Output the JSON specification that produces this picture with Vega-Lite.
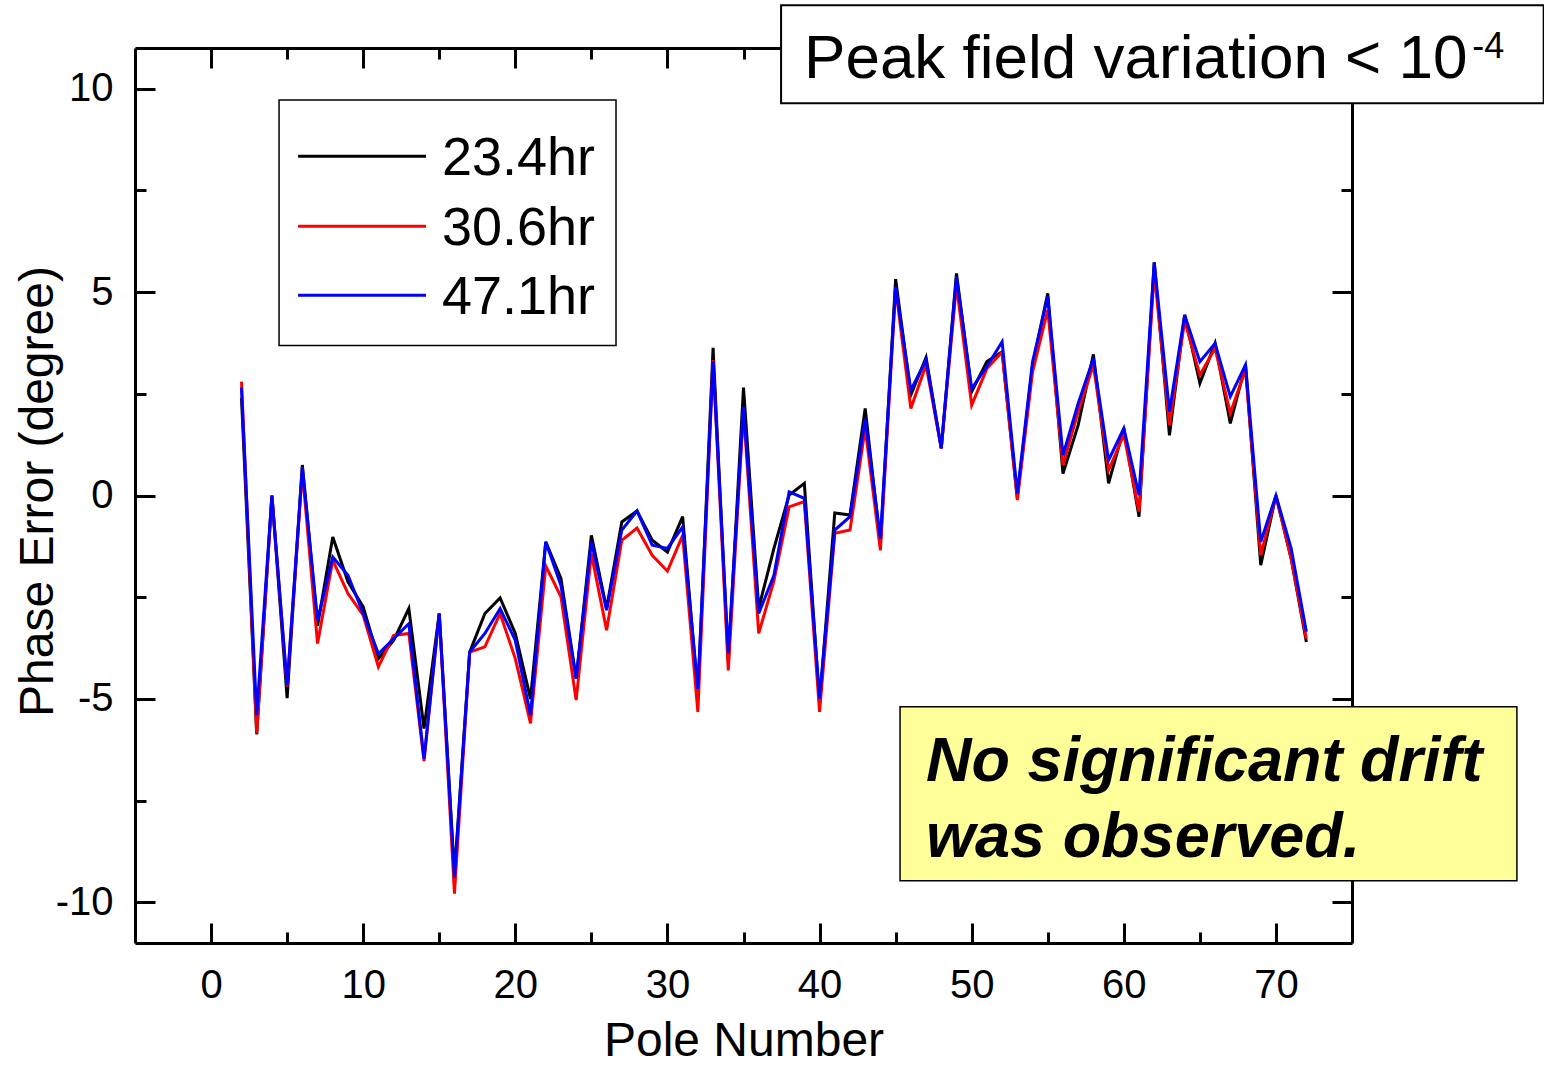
{
  "$schema": "https://vega.github.io/schema/vega-lite/v6.json",
  "width": 1217,
  "height": 895,
  "autosize": "none",
  "padding": {"left": 135, "top": 48, "right": 192, "bottom": 123},
  "background": "white",
  "config": {
    "view": {"stroke": null},
    "font": "Liberation Sans",
    "axis": {
      "domainColor": "black", "domainWidth": 3, "tickColor": "black", "tickWidth": 3,
      "grid": false, "labelFont": "Liberation Sans", "labelFontSize": 40, "labelColor": "black",
      "titleFont": "Liberation Sans", "titleFontSize": 48, "titleFontWeight": "normal", "titleColor": "black"
    }
  },
  "datasets": {
    "phase": [
      {"pole":2,"series":"23.4hr","err":2.4},{"pole":3,"series":"23.4hr","err":-5.87},{"pole":4,"series":"23.4hr","err":0.0},{"pole":5,"series":"23.4hr","err":-4.98},{"pole":6,"series":"23.4hr","err":0.75},{"pole":7,"series":"23.4hr","err":-3.2},{"pole":8,"series":"23.4hr","err":-1.02},{"pole":9,"series":"23.4hr","err":-2.12},{"pole":10,"series":"23.4hr","err":-2.74},{"pole":11,"series":"23.4hr","err":-4.01},{"pole":12,"series":"23.4hr","err":-3.56},{"pole":13,"series":"23.4hr","err":-2.78},{"pole":14,"series":"23.4hr","err":-5.73},{"pole":15,"series":"23.4hr","err":-2.9},{"pole":16,"series":"23.4hr","err":-9.3},{"pole":17,"series":"23.4hr","err":-3.85},{"pole":18,"series":"23.4hr","err":-2.9},{"pole":19,"series":"23.4hr","err":-2.52},{"pole":20,"series":"23.4hr","err":-3.39},{"pole":21,"series":"23.4hr","err":-5.0},{"pole":22,"series":"23.4hr","err":-1.14},{"pole":23,"series":"23.4hr","err":-2.04},{"pole":24,"series":"23.4hr","err":-4.5},{"pole":25,"series":"23.4hr","err":-0.98},{"pole":26,"series":"23.4hr","err":-2.78},{"pole":27,"series":"23.4hr","err":-0.65},{"pole":28,"series":"23.4hr","err":-0.38},{"pole":29,"series":"23.4hr","err":-1.1},{"pole":30,"series":"23.4hr","err":-1.39},{"pole":31,"series":"23.4hr","err":-0.52},{"pole":32,"series":"23.4hr","err":-4.9},{"pole":33,"series":"23.4hr","err":3.63},{"pole":34,"series":"23.4hr","err":-4.1},{"pole":35,"series":"23.4hr","err":2.65},{"pole":36,"series":"23.4hr","err":-2.77},{"pole":37,"series":"23.4hr","err":-1.3},{"pole":38,"series":"23.4hr","err":0.01},{"pole":39,"series":"23.4hr","err":0.3},{"pole":40,"series":"23.4hr","err":-5.1},{"pole":41,"series":"23.4hr","err":-0.43},{"pole":42,"series":"23.4hr","err":-0.48},{"pole":43,"series":"23.4hr","err":2.14},{"pole":44,"series":"23.4hr","err":-1.2},{"pole":45,"series":"23.4hr","err":5.32},{"pole":46,"series":"23.4hr","err":2.47},{"pole":47,"series":"23.4hr","err":3.39},{"pole":48,"series":"23.4hr","err":1.16},{"pole":49,"series":"23.4hr","err":5.46},{"pole":50,"series":"23.4hr","err":2.55},{"pole":51,"series":"23.4hr","err":3.29},{"pole":52,"series":"23.4hr","err":3.53},{"pole":53,"series":"23.4hr","err":-0.05},{"pole":54,"series":"23.4hr","err":3.2},{"pole":55,"series":"23.4hr","err":4.97},{"pole":56,"series":"23.4hr","err":0.54},{"pole":57,"series":"23.4hr","err":1.73},{"pole":58,"series":"23.4hr","err":3.47},{"pole":59,"series":"23.4hr","err":0.3},{"pole":60,"series":"23.4hr","err":1.65},{"pole":61,"series":"23.4hr","err":-0.52},{"pole":62,"series":"23.4hr","err":5.73},{"pole":63,"series":"23.4hr","err":1.48},{"pole":64,"series":"23.4hr","err":4.44},{"pole":65,"series":"23.4hr","err":2.76},{"pole":66,"series":"23.4hr","err":3.74},{"pole":67,"series":"23.4hr","err":1.77},{"pole":68,"series":"23.4hr","err":3.21},{"pole":69,"series":"23.4hr","err":-1.71},{"pole":70,"series":"23.4hr","err":0.0},{"pole":71,"series":"23.4hr","err":-1.55},{"pole":72,"series":"23.4hr","err":-3.6},
      {"pole":2,"series":"30.6hr","err":2.8},{"pole":3,"series":"30.6hr","err":-5.85},{"pole":4,"series":"30.6hr","err":0.0},{"pole":5,"series":"30.6hr","err":-4.7},{"pole":6,"series":"30.6hr","err":0.6},{"pole":7,"series":"30.6hr","err":-3.64},{"pole":8,"series":"30.6hr","err":-1.59},{"pole":9,"series":"30.6hr","err":-2.41},{"pole":10,"series":"30.6hr","err":-2.94},{"pole":11,"series":"30.6hr","err":-4.21},{"pole":12,"series":"30.6hr","err":-3.44},{"pole":13,"series":"30.6hr","err":-3.39},{"pole":14,"series":"30.6hr","err":-6.53},{"pole":15,"series":"30.6hr","err":-2.9},{"pole":16,"series":"30.6hr","err":-9.79},{"pole":17,"series":"30.6hr","err":-3.85},{"pole":18,"series":"30.6hr","err":-3.72},{"pole":19,"series":"30.6hr","err":-2.9},{"pole":20,"series":"30.6hr","err":-4.01},{"pole":21,"series":"30.6hr","err":-5.6},{"pole":22,"series":"30.6hr","err":-1.73},{"pole":23,"series":"30.6hr","err":-2.49},{"pole":24,"series":"30.6hr","err":-5.03},{"pole":25,"series":"30.6hr","err":-1.43},{"pole":26,"series":"30.6hr","err":-3.31},{"pole":27,"series":"30.6hr","err":-1.1},{"pole":28,"series":"30.6hr","err":-0.8},{"pole":29,"series":"30.6hr","err":-1.47},{"pole":30,"series":"30.6hr","err":-1.86},{"pole":31,"series":"30.6hr","err":-0.98},{"pole":32,"series":"30.6hr","err":-5.32},{"pole":33,"series":"30.6hr","err":3.33},{"pole":34,"series":"30.6hr","err":-4.3},{"pole":35,"series":"30.6hr","err":2.1},{"pole":36,"series":"30.6hr","err":-3.39},{"pole":37,"series":"30.6hr","err":-2.1},{"pole":38,"series":"30.6hr","err":-0.28},{"pole":39,"series":"30.6hr","err":-0.15},{"pole":40,"series":"30.6hr","err":-5.32},{"pole":41,"series":"30.6hr","err":-0.93},{"pole":42,"series":"30.6hr","err":-0.85},{"pole":43,"series":"30.6hr","err":1.65},{"pole":44,"series":"30.6hr","err":-1.35},{"pole":45,"series":"30.6hr","err":5.1},{"pole":46,"series":"30.6hr","err":2.14},{"pole":47,"series":"30.6hr","err":3.21},{"pole":48,"series":"30.6hr","err":1.16},{"pole":49,"series":"30.6hr","err":5.17},{"pole":50,"series":"30.6hr","err":2.22},{"pole":51,"series":"30.6hr","err":3.12},{"pole":52,"series":"30.6hr","err":3.53},{"pole":53,"series":"30.6hr","err":-0.11},{"pole":54,"series":"30.6hr","err":3.04},{"pole":55,"series":"30.6hr","err":4.56},{"pole":56,"series":"30.6hr","err":0.75},{"pole":57,"series":"30.6hr","err":2.06},{"pole":58,"series":"30.6hr","err":3.21},{"pole":59,"series":"30.6hr","err":0.62},{"pole":60,"series":"30.6hr","err":1.5},{"pole":61,"series":"30.6hr","err":-0.4},{"pole":62,"series":"30.6hr","err":5.5},{"pole":63,"series":"30.6hr","err":1.73},{"pole":64,"series":"30.6hr","err":4.3},{"pole":65,"series":"30.6hr","err":2.96},{"pole":66,"series":"30.6hr","err":3.62},{"pole":67,"series":"30.6hr","err":2.02},{"pole":68,"series":"30.6hr","err":3.1},{"pole":69,"series":"30.6hr","err":-1.47},{"pole":70,"series":"30.6hr","err":0.0},{"pole":71,"series":"30.6hr","err":-1.55},{"pole":72,"series":"30.6hr","err":-3.52},
      {"pole":2,"series":"47.1hr","err":2.65},{"pole":3,"series":"47.1hr","err":-5.4},{"pole":4,"series":"47.1hr","err":0.0},{"pole":5,"series":"47.1hr","err":-4.67},{"pole":6,"series":"47.1hr","err":0.7},{"pole":7,"series":"47.1hr","err":-3.07},{"pole":8,"series":"47.1hr","err":-1.51},{"pole":9,"series":"47.1hr","err":-1.96},{"pole":10,"series":"47.1hr","err":-2.9},{"pole":11,"series":"47.1hr","err":-3.89},{"pole":12,"series":"47.1hr","err":-3.52},{"pole":13,"series":"47.1hr","err":-3.15},{"pole":14,"series":"47.1hr","err":-6.47},{"pole":15,"series":"47.1hr","err":-2.9},{"pole":16,"series":"47.1hr","err":-9.4},{"pole":17,"series":"47.1hr","err":-3.85},{"pole":18,"series":"47.1hr","err":-3.39},{"pole":19,"series":"47.1hr","err":-2.78},{"pole":20,"series":"47.1hr","err":-3.56},{"pole":21,"series":"47.1hr","err":-5.4},{"pole":22,"series":"47.1hr","err":-1.14},{"pole":23,"series":"47.1hr","err":-2.21},{"pole":24,"series":"47.1hr","err":-4.5},{"pole":25,"series":"47.1hr","err":-1.14},{"pole":26,"series":"47.1hr","err":-2.82},{"pole":27,"series":"47.1hr","err":-0.85},{"pole":28,"series":"47.1hr","err":-0.38},{"pole":29,"series":"47.1hr","err":-1.22},{"pole":30,"series":"47.1hr","err":-1.3},{"pole":31,"series":"47.1hr","err":-0.77},{"pole":32,"series":"47.1hr","err":-4.75},{"pole":33,"series":"47.1hr","err":3.29},{"pole":34,"series":"47.1hr","err":-3.89},{"pole":35,"series":"47.1hr","err":2.18},{"pole":36,"series":"47.1hr","err":-2.9},{"pole":37,"series":"47.1hr","err":-1.96},{"pole":38,"series":"47.1hr","err":0.09},{"pole":39,"series":"47.1hr","err":-0.07},{"pole":40,"series":"47.1hr","err":-4.99},{"pole":41,"series":"47.1hr","err":-0.85},{"pole":42,"series":"47.1hr","err":-0.52},{"pole":43,"series":"47.1hr","err":1.89},{"pole":44,"series":"47.1hr","err":-1.06},{"pole":45,"series":"47.1hr","err":5.13},{"pole":46,"series":"47.1hr","err":2.59},{"pole":47,"series":"47.1hr","err":3.33},{"pole":48,"series":"47.1hr","err":1.16},{"pole":49,"series":"47.1hr","err":5.38},{"pole":50,"series":"47.1hr","err":2.63},{"pole":51,"series":"47.1hr","err":3.17},{"pole":52,"series":"47.1hr","err":3.78},{"pole":53,"series":"47.1hr","err":0.05},{"pole":54,"series":"47.1hr","err":3.29},{"pole":55,"series":"47.1hr","err":4.89},{"pole":56,"series":"47.1hr","err":0.99},{"pole":57,"series":"47.1hr","err":2.26},{"pole":58,"series":"47.1hr","err":3.37},{"pole":59,"series":"47.1hr","err":0.87},{"pole":60,"series":"47.1hr","err":1.65},{"pole":61,"series":"47.1hr","err":0.01},{"pole":62,"series":"47.1hr","err":5.73},{"pole":63,"series":"47.1hr","err":2.06},{"pole":64,"series":"47.1hr","err":4.44},{"pole":65,"series":"47.1hr","err":3.29},{"pole":66,"series":"47.1hr","err":3.74},{"pole":67,"series":"47.1hr","err":2.43},{"pole":68,"series":"47.1hr","err":3.21},{"pole":69,"series":"47.1hr","err":-1.14},{"pole":70,"series":"47.1hr","err":0.0},{"pole":71,"series":"47.1hr","err":-1.3},{"pole":72,"series":"47.1hr","err":-3.35}
    ],
    "note": [{"line": "one"}]
  },
  "resolve": {"axis": {"x": "independent", "y": "independent"}},
  "layer": [
    {
      "data": {"name": "note"},
      "mark": {"type": "rect", "fill": "white", "stroke": "black", "strokeWidth": 1.5},
      "encoding": {
        "x": {"datum": 4.47, "type": "quantitative", "scale": {"domain": [-5, 75], "nice": false, "zero": false},
          "axis": {"orient": "bottom", "values": [0,10,20,30,40,50,60,70], "tickSize": -20, "labelPadding": 42,
            "labelExpr": "toString(datum.value)", "title": "Pole Number", "titleY": 112, "titleBaseline": "alphabetic"}},
        "x2": {"datum": 26.62},
        "y": {"datum": 9.72, "type": "quantitative", "scale": {"domain": [-11, 11], "nice": false, "zero": false},
          "axis": {"orient": "left", "values": [-10,-5,0,5,10], "tickSize": -20, "labelPadding": 42,
            "labelExpr": "toString(datum.value)", "title": "Phase Error (degree)",
            "titleX": -83, "titleY": 443, "titleAngle": -90, "titleAlign": "center", "titleBaseline": "alphabetic"}},
        "y2": {"datum": 3.69}
      }
    },
    {
      "data": {"name": "phase"},
      "mark": {"type": "line", "strokeWidth": 3, "strokeJoin": "miter"},
      "encoding": {
        "x": {"field": "pole", "type": "quantitative", "axis": null},
        "y": {"field": "err", "type": "quantitative", "axis": null},
        "color": {"field": "series", "type": "nominal",
          "scale": {"domain": ["23.4hr", "30.6hr", "47.1hr"], "range": ["#000000", "#ff0000", "#0000ff"]},
          "legend": null}
      }
    },
    {
      "data": {"name": "phase"},
      "transform": [{"filter": "datum.pole == 2 && datum.series == '23.4hr'"}],
      "layer": [
        {"mark": {"type": "rule", "strokeWidth": 3},
         "encoding": {"x": {"datum": 5.72, "axis": null}, "x2": {"datum": 14.13}, "y": {"datum": 8.34, "axis": null},
           "color": {"field": "series", "type": "nominal", "legend": null}}},
        {"mark": {"type": "text", "align": "left", "baseline": "alphabetic", "font": "Liberation Sans", "fontSize": 54, "color": "black"},
         "encoding": {"text": {"field": "series"}, "x": {"datum": 15.18, "axis": null}, "y": {"datum": 7.87, "axis": null}}}
      ]
    },
    {
      "data": {"name": "phase"},
      "transform": [{"filter": "datum.pole == 2 && datum.series == '30.6hr'"}],
      "layer": [
        {"mark": {"type": "rule", "strokeWidth": 3},
         "encoding": {"x": {"datum": 5.72, "axis": null}, "x2": {"datum": 14.13}, "y": {"datum": 6.62, "axis": null},
           "color": {"field": "series", "type": "nominal", "legend": null}}},
        {"mark": {"type": "text", "align": "left", "baseline": "alphabetic", "font": "Liberation Sans", "fontSize": 54, "color": "black"},
         "encoding": {"text": {"field": "series"}, "x": {"datum": 15.18, "axis": null}, "y": {"datum": 6.15, "axis": null}}}
      ]
    },
    {
      "data": {"name": "phase"},
      "transform": [{"filter": "datum.pole == 2 && datum.series == '47.1hr'"}],
      "layer": [
        {"mark": {"type": "rule", "strokeWidth": 3},
         "encoding": {"x": {"datum": 5.72, "axis": null}, "x2": {"datum": 14.13}, "y": {"datum": 4.92, "axis": null},
           "color": {"field": "series", "type": "nominal", "legend": null}}},
        {"mark": {"type": "text", "align": "left", "baseline": "alphabetic", "font": "Liberation Sans", "fontSize": 54, "color": "black"},
         "encoding": {"text": {"field": "series"}, "x": {"datum": 15.18, "axis": null}, "y": {"datum": 4.45, "axis": null}}}
      ]
    },
    {
      "data": {"name": "phase"},
      "mark": {"type": "point", "opacity": 0},
      "encoding": {
        "x": {"field": "pole", "type": "quantitative",
          "axis": {"orient": "bottom", "values": [5,15,25,35,45,55,65], "tickSize": -11, "labels": false, "domain": false, "title": null}},
        "y": {"field": "err", "type": "quantitative",
          "axis": {"orient": "left", "values": [-7.5,-2.5,2.5,7.5], "tickSize": -11, "labels": false, "domain": false, "title": null}}
      }
    },
    {
      "data": {"name": "phase"},
      "mark": {"type": "point", "opacity": 0},
      "encoding": {
        "x": {"field": "pole", "type": "quantitative",
          "axis": {"orient": "top", "values": [0,10,20,30,40,50,60,70], "tickSize": -20, "labels": false, "title": null}},
        "y": {"field": "err", "type": "quantitative",
          "axis": {"orient": "right", "values": [-10,-5,0,5,10], "tickSize": -20, "labels": false, "title": null}}
      }
    },
    {
      "data": {"name": "phase"},
      "mark": {"type": "point", "opacity": 0},
      "encoding": {
        "x": {"field": "pole", "type": "quantitative",
          "axis": {"orient": "top", "values": [5,15,25,35,45,55,65], "tickSize": -11, "labels": false, "domain": false, "title": null}},
        "y": {"field": "err", "type": "quantitative",
          "axis": {"orient": "right", "values": [-7.5,-2.5,2.5,7.5], "tickSize": -11, "labels": false, "domain": false, "title": null}}
      }
    },
    {
      "data": {"name": "note"},
      "mark": {"type": "rect", "fill": "white", "stroke": "black", "strokeWidth": 2},
      "encoding": {
        "x": {"datum": 37.47, "axis": null}, "x2": {"datum": 87.6},
        "y": {"datum": 12.05, "axis": null}, "y2": {"datum": 9.64}
      }
    },
    {
      "data": {"values": [{"label": "Peak field variation < 10"}]},
      "mark": {"type": "text", "align": "left", "baseline": "alphabetic", "font": "Liberation Sans", "fontSize": 62, "color": "black"},
      "encoding": {
        "text": {"field": "label"},
        "x": {"datum": 38.98, "axis": null},
        "y": {"datum": 10.26, "axis": null}
      }
    },
    {
      "data": {"values": [{"label": "-4"}]},
      "mark": {"type": "text", "align": "left", "baseline": "alphabetic", "font": "Liberation Sans", "fontSize": 36, "color": "black"},
      "encoding": {
        "text": {"field": "label"},
        "x": {"datum": 82.9, "axis": null},
        "y": {"datum": 10.75, "axis": null}
      }
    },
    {
      "data": {"name": "note"},
      "mark": {"type": "rect", "fill": "#ffff99", "stroke": "black", "strokeWidth": 1.5},
      "encoding": {
        "x": {"datum": 45.29, "axis": null}, "x2": {"datum": 85.84},
        "y": {"datum": -5.19, "axis": null}, "y2": {"datum": -9.47}
      }
    },
    {
      "data": {"values": [{"label": "No significant drift\nwas observed."}]},
      "mark": {"type": "text", "align": "left", "baseline": "alphabetic", "font": "Liberation Sans", "fontWeight": "bold", "fontStyle": "italic",
        "fontSize": 63, "lineBreak": "\n", "lineHeight": 76, "color": "black"},
      "encoding": {
        "text": {"field": "label"},
        "x": {"datum": 47.0, "axis": null},
        "y": {"datum": -7.01, "axis": null}
      }
    }
  ]
}
